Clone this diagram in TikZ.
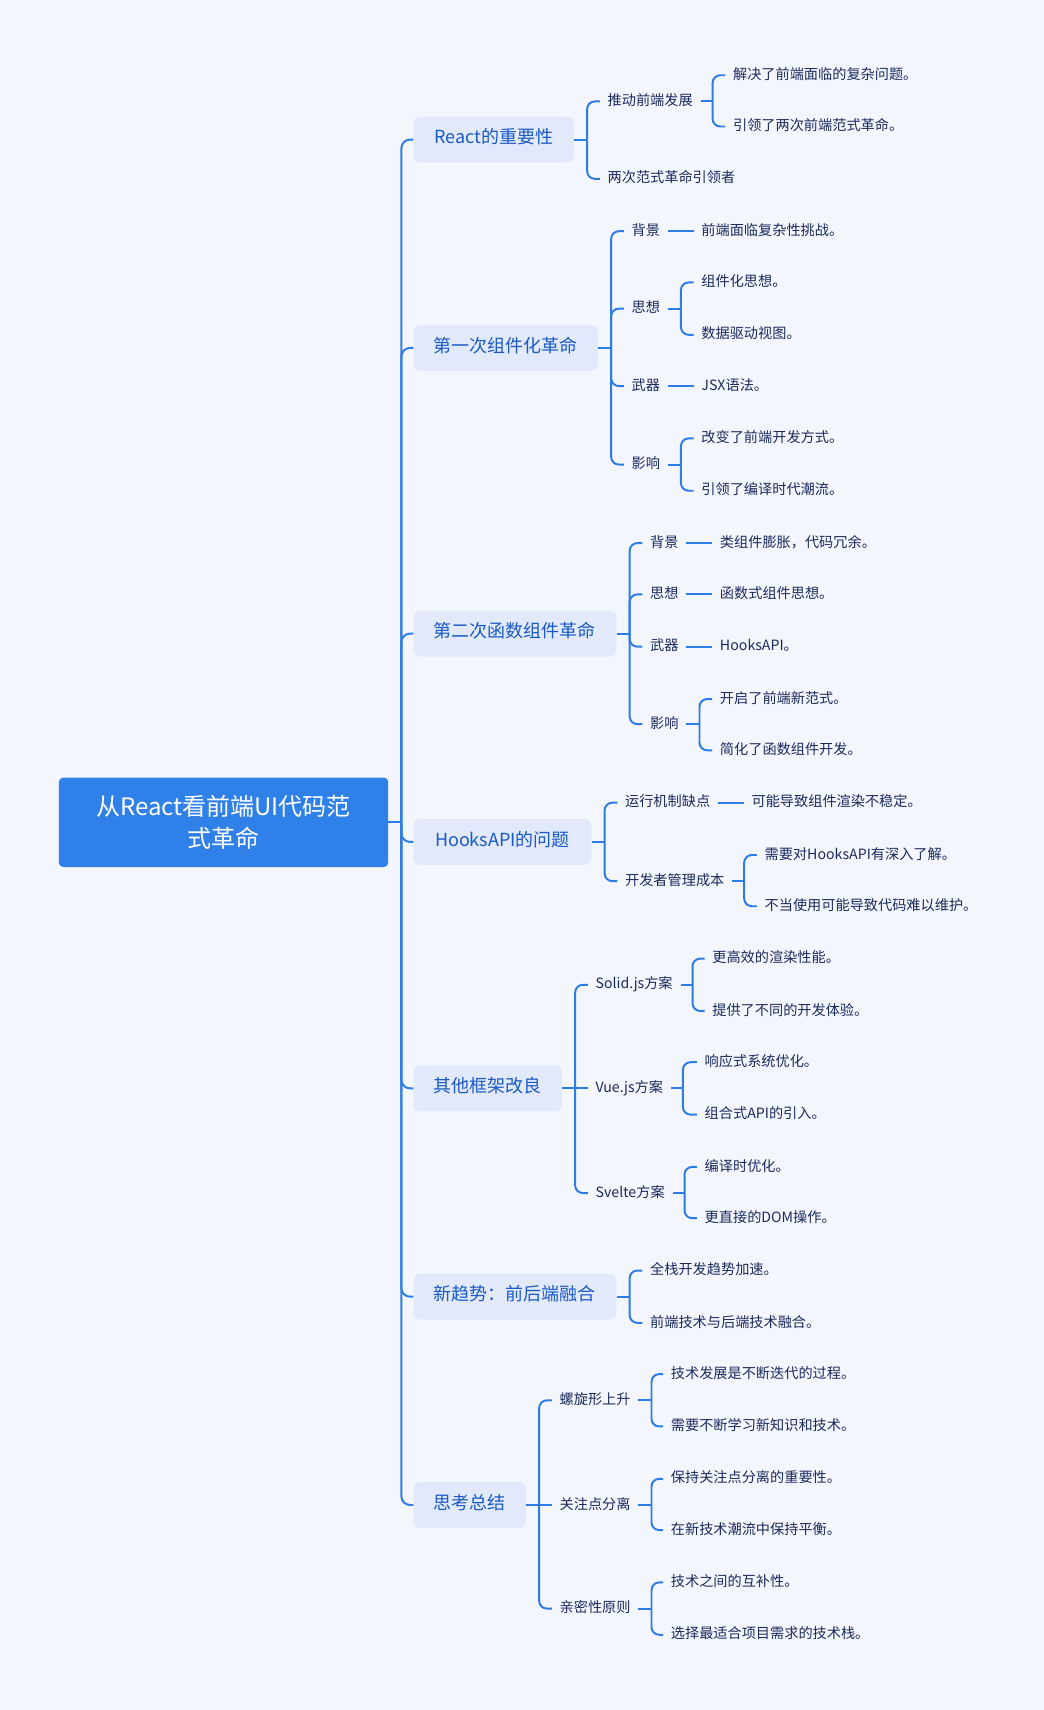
\documentclass[tikz,border=0pt]{standalone}
\usepackage{fontspec}
\setmainfont{Noto Sans CJK SC}
\definecolor{bgc}{HTML}{F4F6FD}
\definecolor{lnc}{HTML}{2D7CE6}
\definecolor{lvfill}{HTML}{E1E9FB}
\definecolor{lvtext}{HTML}{1B5AC4}
\definecolor{leaftext}{HTML}{1B2A5E}
\definecolor{rootfill}{HTML}{2F80E8}
\newcommand\mmfork[3]{%
  \draw[conn] (#1.east) -- ++(#2,0) coordinate (#1j);
  \foreach \c in {#3}{\draw[conn,rounded corners=7pt] (#1j) |- (\c.west);}%
}
\begin{document}
\begin{tikzpicture}[x=1pt,y=-1pt,
  conn/.style={draw=lnc,line width=1.8pt},
  rootbox/.style={fill=rootfill,rounded corners=4pt,text=white,font=\fontsize{22}{29}\selectfont,align=center,minimum width=302pt,minimum height=82pt,inner sep=0pt},
  lvbox/.style={fill=lvfill,rounded corners=6pt,text=lvtext,font=\fontsize{16.5}{20}\selectfont,minimum height=42pt,inner sep=0pt,anchor=west,text height=0.88em,text depth=0.12em},
  leaf/.style={text=leaftext,font=\fontsize{13}{16}\selectfont,anchor=west,inner xsep=7pt,inner ysep=2pt,text height=0.88em,text depth=0.12em},
]
\fill[bgc] (0,0) rectangle (957,1568);
\useasboundingbox (0,0) rectangle (957,1568);

\node[rootbox] (root) at (205,754) {从React看前端UI代码范\\式革命};

% level 1
\node[lvbox,minimum width=147pt] (A) at (379,128) {React的重要性};
\node[lvbox,minimum width=169pt] (B) at (379,319) {第一次组件化革命};
\node[lvbox,minimum width=186pt] (C) at (379,581) {第二次函数组件革命};
\node[lvbox,minimum width=163pt] (D) at (379,772) {HooksAPI的问题};
\node[lvbox,minimum width=136pt] (E) at (379,998) {其他框架改良};
\node[lvbox,minimum width=186pt] (F) at (379,1189) {新趋势：前后端融合};
\node[lvbox,minimum width=103pt] (G) at (379,1380) {思考总结};

% trunk
\coordinate (trunk) at (368,754);
\draw[conn] (root.east) -- (trunk);
\foreach \b in {A,B,C,D,E,F,G}{\draw[conn,rounded corners=8pt] (trunk) |- (\b.west);}

% A
\node[leaf] (a1) at (550,93) {推动前端发展};
\node[leaf] (a2) at (550,164) {两次范式革命引领者};
\node[leaf] (a11) at (665,69) {解决了前端面临的复杂问题。};
\node[leaf] (a12) at (665,116) {引领了两次前端范式革命。};
\mmfork{A}{12}{a1,a2}
\mmfork{a1}{11}{a11,a12}

% B
\node[leaf] (b1) at (572,212) {背景};
\node[leaf] (b1c) at (636,212) {前端面临复杂性挑战。};
\node[leaf] (b2) at (572,283) {思想};
\node[leaf] (b21) at (636,259) {组件化思想。};
\node[leaf] (b22) at (636,307) {数据驱动视图。};
\node[leaf] (b3) at (572,354) {武器};
\node[leaf] (b3c) at (636,354) {JSX语法。};
\node[leaf] (b4) at (572,426) {影响};
\node[leaf] (b41) at (636,402) {改变了前端开发方式。};
\node[leaf] (b42) at (636,450) {引领了编译时代潮流。};
\mmfork{B}{12}{b1,b2,b3,b4}
\draw[conn] (b1.east) -- (b1c.west);
\mmfork{b2}{12}{b21,b22}
\draw[conn] (b3.east) -- (b3c.west);
\mmfork{b4}{12}{b41,b42}

% C
\node[leaf] (c1) at (589,498) {背景};
\node[leaf] (c1c) at (653,498) {类组件膨胀，代码冗余。};
\node[leaf] (c2) at (589,545) {思想};
\node[leaf] (c2c) at (653,545) {函数式组件思想。};
\node[leaf] (c3) at (589,593) {武器};
\node[leaf] (c3c) at (653,593) {HooksAPI。};
\node[leaf] (c4) at (589,664) {影响};
\node[leaf] (c41) at (653,641) {开启了前端新范式。};
\node[leaf] (c42) at (653,688) {简化了函数组件开发。};
\mmfork{C}{12}{c1,c2,c3,c4}
\draw[conn] (c1.east) -- (c1c.west);
\draw[conn] (c2.east) -- (c2c.west);
\draw[conn] (c3.east) -- (c3c.west);
\mmfork{c4}{12}{c41,c42}

% D
\node[leaf] (d1) at (566,736) {运行机制缺点};
\node[leaf] (d1c) at (682,736) {可能导致组件渲染不稳定。};
\node[leaf] (d2) at (566,808) {开发者管理成本};
\node[leaf] (d21) at (694,784) {需要对HooksAPI有深入了解。};
\node[leaf] (d22) at (694,831) {不当使用可能导致代码难以维护。};
\mmfork{D}{12}{d1,d2}
\draw[conn] (d1.east) -- (d1c.west);
\mmfork{d2}{11}{d21,d22}

% E
\node[leaf] (e1) at (539,903) {Solid.js方案};
\node[leaf] (e11) at (646,879) {更高效的渲染性能。};
\node[leaf] (e12) at (646,927) {提供了不同的开发体验。};
\node[leaf] (e2) at (539,998) {Vue.js方案};
\node[leaf] (e21) at (639,974) {响应式系统优化。};
\node[leaf] (e22) at (639,1022) {组合式API的引入。};
\node[leaf] (e3) at (539,1094) {Svelte方案};
\node[leaf] (e31) at (639,1070) {编译时优化。};
\node[leaf] (e32) at (639,1117) {更直接的DOM操作。};
\mmfork{E}{12}{e1,e3}
\draw[conn] (Ej) -- (e2.west);
\mmfork{e1}{11}{e11,e12}
\mmfork{e2}{11}{e21,e22}
\mmfork{e3}{11}{e31,e32}

% F
\node[leaf] (f1) at (589,1165) {全栈开发趋势加速。};
\node[leaf] (f2) at (589,1213) {前端技术与后端技术融合。};
\mmfork{F}{12}{f1,f2}

% G
\node[leaf] (g1) at (506,1284) {螺旋形上升};
\node[leaf] (g11) at (608,1260) {技术发展是不断迭代的过程。};
\node[leaf] (g12) at (608,1308) {需要不断学习新知识和技术。};
\node[leaf] (g2) at (506,1380) {关注点分离};
\node[leaf] (g21) at (608,1356) {保持关注点分离的重要性。};
\node[leaf] (g22) at (608,1403) {在新技术潮流中保持平衡。};
\node[leaf] (g3) at (506,1475) {亲密性原则};
\node[leaf] (g31) at (608,1451) {技术之间的互补性。};
\node[leaf] (g32) at (608,1499) {选择最适合项目需求的技术栈。};
\mmfork{G}{12}{g1,g3}
\draw[conn] (Gj) -- (g2.west);
\mmfork{g1}{12}{g11,g12}
\mmfork{g2}{12}{g21,g22}
\mmfork{g3}{12}{g31,g32}
\end{tikzpicture}
\end{document}
